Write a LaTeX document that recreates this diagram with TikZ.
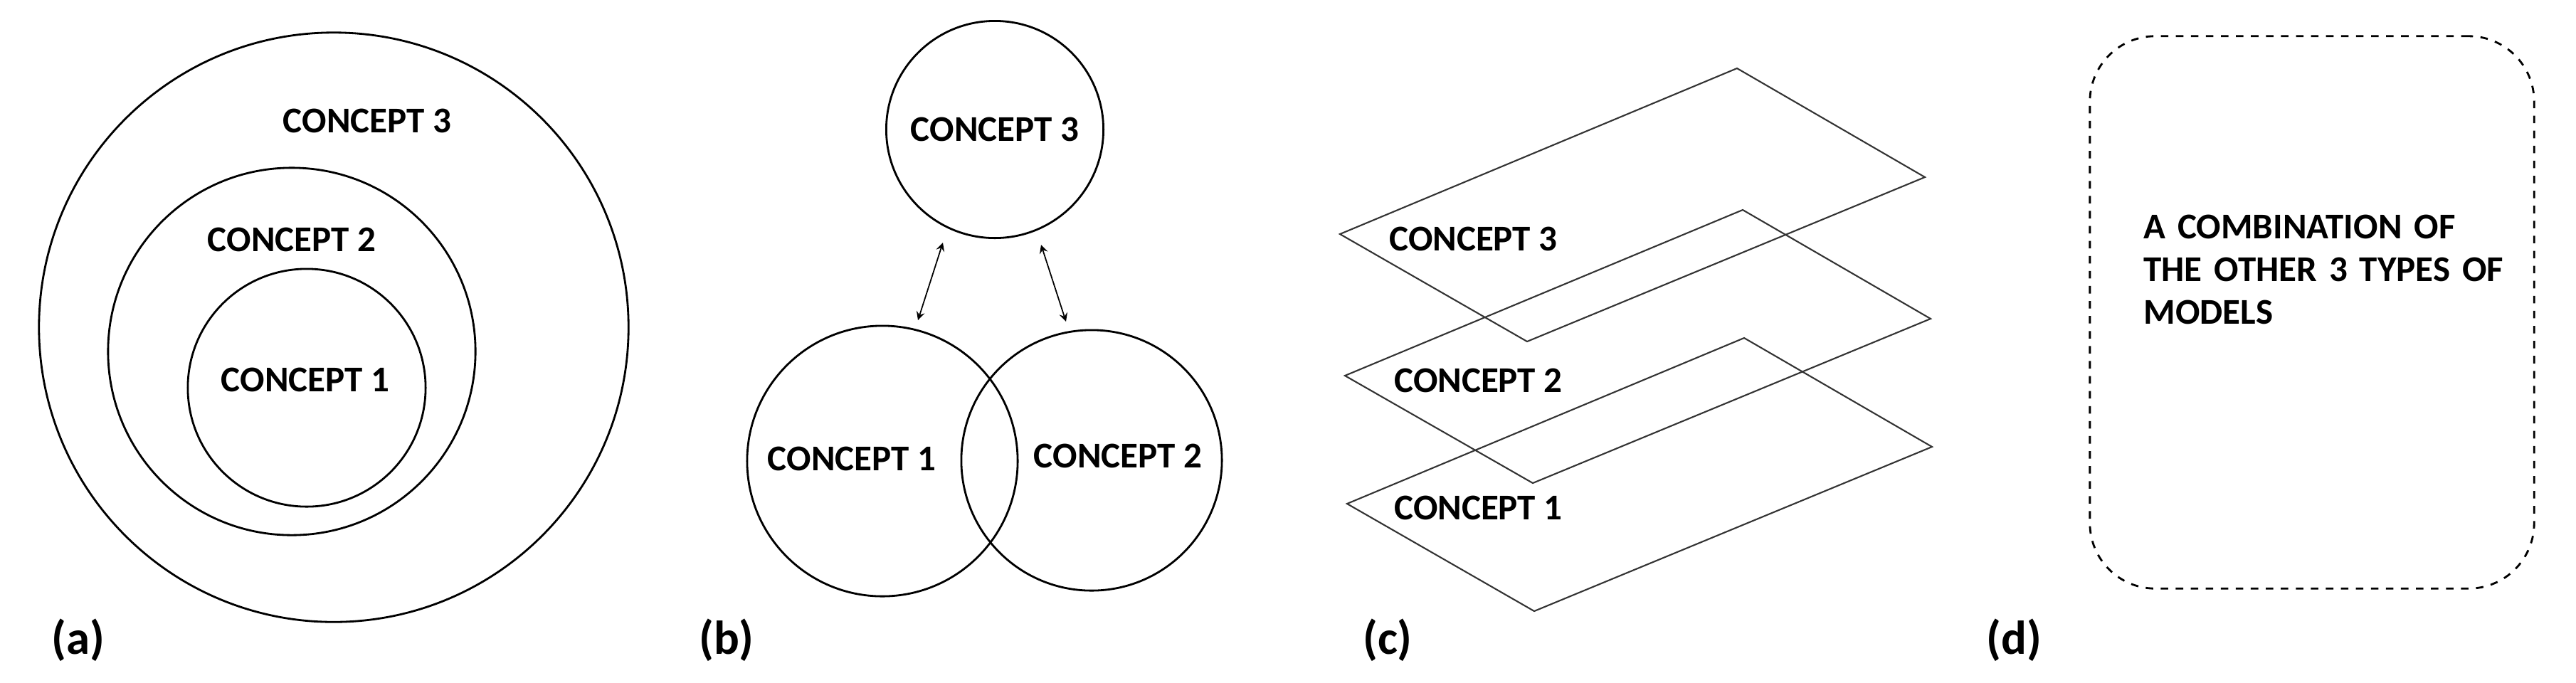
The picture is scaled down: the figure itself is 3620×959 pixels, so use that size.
\documentclass[tikz,border=0pt]{standalone}
\usepackage{fontspec}
\setmainfont{Carlito}
\usetikzlibrary{arrows}

\begin{document}
\begin{tikzpicture}[x=0.01cm, y=-0.01cm]
    \tikzstyle{ring} = [circle, draw=black, line width=0.8pt, inner sep=0pt]
    \tikzstyle{concept} = [font=\fontsize{14.5}{17}\selectfont\bfseries]
    \tikzstyle{plane} = [draw=black!80, line width=0.6pt]
    \tikzstyle{tag} = [font=\fontsize{19}{22}\selectfont\bfseries]
    \tikzstyle{arrow} = [<->, >=stealth, line width=0.5pt]

    \useasboundingbox (0,0) rectangle (3620,959);

    % (a) nested
    \node (a3) [ring, minimum size=8.28cm] at (469,460) {};
    \node (a2) [ring, minimum size=5.16cm] at (410,494) {};
    \node (a1) [ring, minimum size=3.34cm] at (431,545) {};
    \node (a3t) [concept] at (516,170) {CONCEPT 3};
    \node (a2t) [concept] at (410,337) {CONCEPT 2};
    \node (a1t) [concept] at (429,534) {CONCEPT 1};
    \node (la) [tag] at (110,900) {(a)};

    % (b) linked
    \node (b3) [ring, concept, minimum size=3.05cm] at (1398,182) {CONCEPT 3};
    \node (b1) [ring, minimum size=3.8cm] at (1240,648) {};
    \node (b2) [ring, minimum size=3.66cm] at (1534,647) {};
    \node (b1t) [concept] at (1197,645) {CONCEPT 1};
    \node (b2t) [concept] at (1571,641) {CONCEPT 2};
    \coordinate (p1) at (1325,341);
    \coordinate (q1) at (1290,450);
    \coordinate (p2) at (1463,344);
    \coordinate (q2) at (1498,452);
    \draw [arrow] (p1) -- (q1);
    \draw [arrow] (p2) -- (q2);
    \node (lb) [tag] at (1021,900) {(b)};

    % (c) layers
    \draw [plane] (1883,329) -- (2441,96) -- (2705,249) -- (2146,480) -- cycle;
    \draw [plane] (1890,528) -- (2449,295) -- (2713,448) -- (2154,679) -- cycle;
    \draw [plane] (1893,708) -- (2451,475) -- (2715,628) -- (2156,859) -- cycle;
    \node (c3t) [concept, anchor=west] at (1940,336) {CONCEPT 3};
    \node (c2t) [concept, anchor=west] at (1947,535) {CONCEPT 2};
    \node (c1t) [concept, anchor=west] at (1947,714) {CONCEPT 1};
    \node (lc) [tag] at (1950,900) {(c)};

    % (d) combination
    \node (d) [draw=black, dashed, line width=0.8pt, rounded corners=0.92cm,
               minimum width=6.24cm, minimum height=7.76cm] at (3249,439) {};
    \node (dt) [concept, anchor=north west, align=left, text width=5.2cm]
        at (3000,290) {A COMBINATION OF\\THE OTHER 3 TYPES OF\\MODELS};
    \node (ld) [tag] at (2830,900) {(d)};
\end{tikzpicture}
\end{document}
